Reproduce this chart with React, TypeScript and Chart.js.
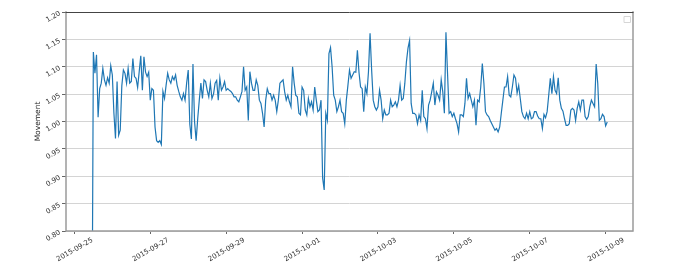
import React, { useEffect, useRef } from 'react';
import { Chart, registerables } from 'chart.js';

Chart.register(...registerables);

// Hourly series, first sample at 2015-09-25 11:00
const startHour = 11; // hours after 2015-09-25 00:00
const stepHours = 1;

const movement = [
  0.50, 1.127, 1.088, 1.122, 1.008, 1.060, 1.070, 1.097, 1.076, 1.066,
  1.080, 1.070, 1.102, 1.085, 1.015, 0.969, 1.073, 0.975, 0.984, 1.065,
  1.094, 1.088, 1.070, 1.097, 1.070, 1.073, 1.115, 1.082, 1.079, 1.062,
  1.091, 1.120, 1.057, 1.118, 1.090, 1.082, 1.090, 1.039, 1.060, 1.057,
  0.990, 0.965, 0.962, 0.965, 0.958, 1.055, 1.042, 1.066, 1.088, 1.076,
  1.070, 1.082, 1.076, 1.085, 1.066, 1.055, 1.045, 1.039, 1.051, 1.039,
  1.070, 1.094, 0.995, 0.968, 1.105, 1.000, 0.965, 1.005, 1.039, 1.070,
  1.042, 1.076, 1.073, 1.057, 1.045, 1.070, 1.042, 1.050, 1.070, 1.075,
  1.039, 1.079, 1.057, 1.063, 1.073, 1.057, 1.060, 1.057, 1.055, 1.051,
  1.045, 1.045, 1.039, 1.036, 1.045, 1.055, 1.100, 1.057, 1.063, 1.002,
  1.091, 1.070, 1.057, 1.057, 1.076, 1.066, 1.039, 1.033, 1.015, 0.990,
  1.039, 1.060, 1.051, 1.051, 1.039, 1.048, 1.039, 1.018, 1.039, 1.070,
  1.073, 1.076, 1.054, 1.039, 1.048, 1.036, 1.027, 1.100, 1.070, 1.048,
  1.045, 1.015, 1.012, 1.063, 1.057, 1.021, 1.012, 1.042, 1.027, 1.036,
  1.021, 1.063, 1.039, 1.018, 1.021, 1.039, 0.897, 0.875, 1.015, 1.002,
  1.124, 1.135, 1.100, 1.048, 1.039, 1.018, 1.027, 1.039, 1.018, 1.015,
  0.996, 1.039, 1.066, 1.094, 1.079, 1.085, 1.091, 1.090, 1.130, 1.090,
  1.063, 1.060, 1.018, 1.063, 1.051, 1.091, 1.161, 1.094, 1.039, 1.027,
  1.021, 1.027, 1.057, 1.039, 1.005, 1.021, 1.012, 1.012, 1.015, 1.039,
  1.027, 1.030, 1.036, 1.027, 1.039, 1.066, 1.039, 1.042, 1.070, 1.109,
  1.134, 1.148, 1.033, 1.015, 1.015, 1.012, 0.996, 1.012, 1.002, 1.057,
  1.009, 1.005, 0.987, 1.030, 1.039, 1.054, 1.070, 1.030, 1.054, 1.048,
  1.039, 1.076, 1.054, 1.015, 1.163, 1.088, 1.015, 1.018, 1.009, 1.015,
  1.005, 0.996, 0.981, 1.012, 1.012, 1.009, 1.033, 1.079, 1.042, 1.051,
  1.039, 1.027, 1.039, 0.993, 1.039, 1.036, 1.063, 1.106, 1.070, 1.018,
  1.012, 1.009, 1.002, 0.996, 0.990, 0.984, 0.987, 0.981, 0.990, 1.015,
  1.039, 1.063, 1.063, 1.082, 1.048, 1.045, 1.063, 1.085, 1.079, 1.052,
  1.066, 1.042, 1.018, 1.009, 1.005, 1.015, 1.005, 1.018, 1.005, 1.007,
  1.018, 1.018, 1.010, 1.005, 1.005, 0.987, 1.013, 1.007, 1.018, 1.048,
  1.079, 1.051, 1.082, 1.057, 1.051, 1.080, 1.039, 1.024, 1.019, 1.005,
  0.993, 0.993, 0.996, 1.021, 1.024, 1.021, 1.002, 1.024, 1.036, 1.021,
  1.039, 1.039, 1.009, 1.004, 1.009, 1.027, 1.039, 1.033, 1.027, 1.105,
  1.070, 1.002, 1.005, 1.013, 1.009, 0.992, 0.999,
];

const xTickHours = [0, 48, 96, 144, 192, 240, 288, 336];
const xTickLabels = [
  '2015-09-25', '2015-09-27', '2015-09-29', '2015-10-01',
  '2015-10-03', '2015-10-05', '2015-10-07', '2015-10-09',
];
const yTickValues = [0.8, 0.85, 0.9, 0.95, 1.0, 1.05, 1.1, 1.15, 1.2];
const yMin = 0.8;
const yMax = 1.2;

const FONT = 'DejaVu Sans';
const TICK_COLOR = '#333333';

const framePlugin = {
  id: 'frame',
  afterDraw(chart: any) {
    const { ctx, chartArea: a } = chart;
    const yScale = chart.scales.y;
    ctx.save();
    // rotated y tick labels (30 degrees), right end at the tick
    ctx.fillStyle = TICK_COLOR;
    ctx.font = `7px "${FONT}"`;
    ctx.textAlign = 'right';
    ctx.textBaseline = 'middle';
    yTickValues.forEach((v) => {
      const py = yScale.getPixelForValue(v);
      ctx.save();
      ctx.translate(a.left - 6, py + 1);
      ctx.rotate((-30 * Math.PI) / 180);
      ctx.fillText(v.toFixed(2), 0, 0);
      ctx.restore();
    });

    ctx.lineCap = 'square';
    // left, bottom, right spines
    ctx.strokeStyle = '#9a9a9a';
    ctx.lineWidth = 1.5;
    ctx.beginPath();
    ctx.moveTo(a.left, a.top);
    ctx.lineTo(a.left, a.bottom);
    ctx.lineTo(a.right, a.bottom);
    ctx.lineTo(a.right, a.top);
    ctx.stroke();
    // top spine
    ctx.strokeStyle = '#444444';
    ctx.lineWidth = 1;
    ctx.beginPath();
    ctx.moveTo(a.left, a.top + 0.5);
    ctx.lineTo(a.right, a.top + 0.5);
    ctx.stroke();
    // empty legend box
    const bx = a.right - 8.5;
    const by = a.top + 4.5;
    ctx.fillStyle = '#ffffff';
    ctx.strokeStyle = '#d6d6d6';
    ctx.lineWidth = 1;
    ctx.beginPath();
    ctx.rect(bx, by, 6, 6);
    ctx.fill();
    ctx.stroke();
    ctx.restore();
  },
};

export default function App() {
  const ref = useRef<HTMLCanvasElement | null>(null);

  useEffect(() => {
    document.body.style.margin = '0';
    const canvas = ref.current;
    if (!canvas) return;
    const points = movement.map((v, i) => ({ x: startHour + i * stepHours, y: v }));
    const first = points[0].x;
    const last = points[points.length - 1].x;
    const margin = (last - first) * 0.05;

    const chart = new Chart(canvas, {
      type: 'line',
      data: {
        datasets: [
          {
            data: points,
            borderColor: '#1f77b4',
            borderWidth: 1.2,
            pointRadius: 0,
            tension: 0,
            fill: false,
          },
        ],
      },
      options: {
        animation: false,
        responsive: false,
        maintainAspectRatio: false,
        layout: { padding: { left: 0, right: 50, top: 12, bottom: 0 } },
        plugins: { legend: { display: false }, tooltip: { enabled: false } },
        scales: {
          x: {
            type: 'linear',
            min: first - margin,
            max: last + margin,
            afterBuildTicks: (s: any) => {
              s.ticks = xTickHours.map((v) => ({ value: v }));
            },
            afterFit: (s: any) => {
              s.height = 40;
            },
            grid: {
              display: true,
              drawOnChartArea: false,
              drawTicks: true,
              tickLength: 3,
              tickColor: '#666666',
            },
            border: { display: false },
            ticks: {
              autoSkip: false,
              minRotation: 30,
              maxRotation: 30,
              labelOffset: 18,
              padding: 2,
              color: TICK_COLOR,
              font: { family: FONT, size: 7 },
              callback: (_v: any, i: number) => xTickLabels[i],
            },
          },
          y: {
            type: 'linear',
            min: yMin,
            max: yMax,
            afterBuildTicks: (s: any) => {
              s.ticks = yTickValues.map((v) => ({ value: v }));
            },
            afterFit: (s: any) => {
              s.width = 66;
            },
            grid: {
              color: '#d4d4d4',
              lineWidth: 1,
              tickColor: '#666666',
              tickLength: 4,
            },
            border: { display: false },
            ticks: {
              padding: 2,
              color: 'rgba(0,0,0,0)',
              font: { family: FONT, size: 7 },
              callback: (v: any) => Number(v).toFixed(2),
            },
            title: {
              display: true,
              text: 'Movement',
              color: '#222222',
              font: { family: FONT, size: 7.5 },
              padding: { top: 33.5, bottom: 0 },
            },
          },
        },
      },
      plugins: [framePlugin],
    });
    return () => chart.destroy();
  }, []);

  return (
    <div style={{ width: 683, height: 271 }}>
      <canvas ref={ref} width={683} height={271} style={{ display: 'block' }} />
    </div>
  );
}
